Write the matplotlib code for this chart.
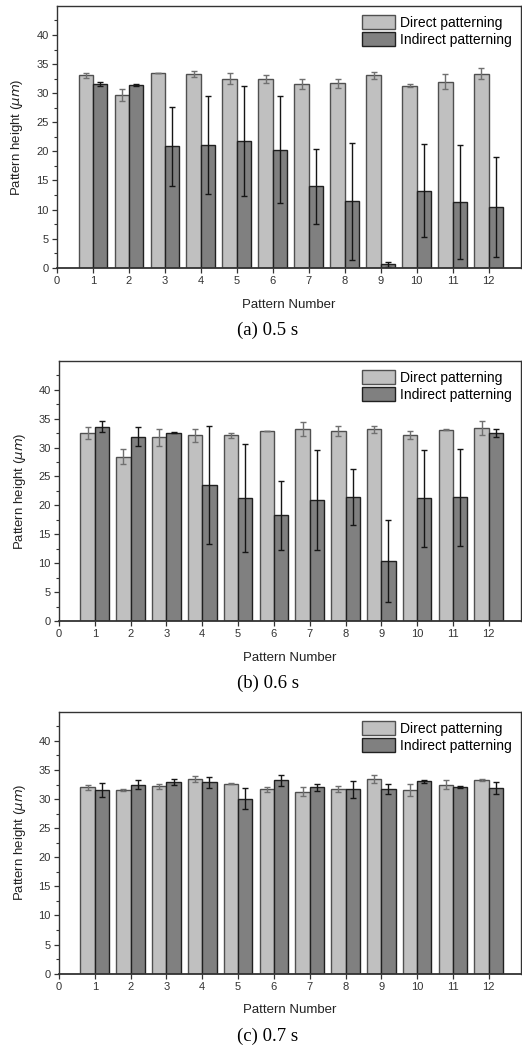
import matplotlib
matplotlib.use("Agg")
import matplotlib.pyplot as plt
import numpy as np

plt.rcParams['font.family'] = ['Liberation Sans', 'DejaVu Sans']

patterns = list(range(1, 13))
labels = ["Direct patterning", "Indirect patterning"]
captions = ["(a) 0.5 s", "(b) 0.6 s", "(c) 0.7 s"]

# 0.5 s
direct_05 = [33.1, 29.7, 33.5, 33.3, 32.5, 32.4, 31.6, 31.7, 33.1, 31.3, 32.0, 33.3]
direct_05_err = [0.45, 1.05, 0.0, 0.5, 1.0, 0.65, 0.8, 0.75, 0.6, 0.2, 1.3, 0.95]
indirect_05 = [31.6, 31.4, 20.9, 21.1, 21.7, 20.3, 14.0, 11.4, 0.6, 13.2, 11.3, 10.4]
indirect_05_err = [0.35, 0.2, 6.8, 8.35, 9.45, 9.15, 6.4, 10.0, 0.4, 8.0, 9.75, 8.55]

# 0.6 s
direct_06 = [32.5, 28.4, 31.8, 32.1, 32.1, 32.9, 33.2, 32.9, 33.2, 32.2, 33.1, 33.4]
direct_06_err = [1.05, 1.3, 1.45, 1.15, 0.5, 0.05, 1.2, 0.85, 0.6, 0.65, 0.1, 1.2]
indirect_06 = [33.6, 31.9, 32.6, 23.5, 21.3, 18.3, 20.9, 21.5, 10.4, 21.2, 21.4, 32.6]
indirect_06_err = [0.95, 1.65, 0.15, 10.25, 9.35, 5.95, 8.7, 4.85, 7.1, 8.35, 8.4, 0.7]

# 0.7 s
direct_07 = [32.0, 31.5, 32.2, 33.5, 32.65, 31.7, 31.3, 31.8, 33.5, 31.6, 32.5, 33.3]
direct_07_err = [0.45, 0.15, 0.4, 0.55, 0.1, 0.45, 0.7, 0.5, 0.7, 1.0, 0.75, 0.15]
indirect_07 = [31.6, 32.5, 32.9, 32.9, 30.1, 33.2, 32.0, 31.7, 31.7, 33.05, 32.1, 31.85]
indirect_07_err = [1.2, 0.85, 0.55, 0.95, 1.75, 0.9, 0.65, 1.45, 0.9, 0.3, 0.15, 1.0]

panels = [
    (direct_05, direct_05_err, indirect_05, indirect_05_err),
    (direct_06, direct_06_err, indirect_06, indirect_06_err),
    (direct_07, direct_07_err, indirect_07, indirect_07_err),
]

fig = plt.figure(figsize=(5.22, 10.5), dpi=100)

# left, bottom, width, height in figure fraction
boxes = [
    [0.1092, 0.7450, 0.8889, 0.2494],
    [0.1130, 0.4086, 0.8851, 0.2477],
    [0.1130, 0.0727, 0.8851, 0.2494],
]
caption_y = [0.6857, 0.3495, 0.0133]

x = np.array(patterns)
w = 0.4
for box, (d, de, ind, inde), cap, cy in zip(boxes, panels, captions, caption_y):
    ax = fig.add_axes(box)
    ax.bar(x - w / 2, d, w, yerr=de, color="#c0c0c0", edgecolor="#505050",
           linewidth=1.0, label=labels[0],
           error_kw=dict(ecolor="#707070", elinewidth=1.0, capsize=2.5, capthick=1.0))
    ax.bar(x + w / 2, ind, w, yerr=inde, color="#808080", edgecolor="#202020",
           linewidth=1.0, label=labels[1],
           error_kw=dict(ecolor="#151515", elinewidth=1.0, capsize=2.5, capthick=1.0))

    ax.set_xlim(0, 12.9)
    ax.set_ylim(0, 45)
    ax.set_xticks(range(0, 13))
    ax.set_yticks(range(0, 45, 5))
    ax.set_yticks(np.arange(2.5, 45, 5), minor=True)
    ax.tick_params(axis="both", direction="out", length=3.5, width=0.9,
                   labelsize=8, labelcolor="#333333", color="#333333", pad=2.5)
    ax.tick_params(axis="y", which="minor", length=2, width=0.8, color="#333333")
    for s in ax.spines.values():
        s.set_color("#333333")
        s.set_linewidth(1.0)
    ax.spines["bottom"].set_linewidth(1.3)

    ax.set_xlabel("Pattern Number", fontsize=9.5, color="#222222", labelpad=9)
    ax.set_ylabel(r"Pattern height ($\mu m$)", fontsize=9.5, color="#222222")
    ax.yaxis.set_label_coords(-0.068, 0.5)

    ax.legend(loc="upper right", bbox_to_anchor=(0.99, 0.98), frameon=False,
              fontsize=10, handlelength=2.4, handleheight=1.1, handletextpad=0.4,
              labelspacing=0.2, borderaxespad=0.0, borderpad=0.3)

    fig.text(0.513, cy, cap, ha="center", va="center", fontsize=13.5,
             family=["Liberation Serif", "DejaVu Serif"])

fig.savefig("out.png", dpi=100)
